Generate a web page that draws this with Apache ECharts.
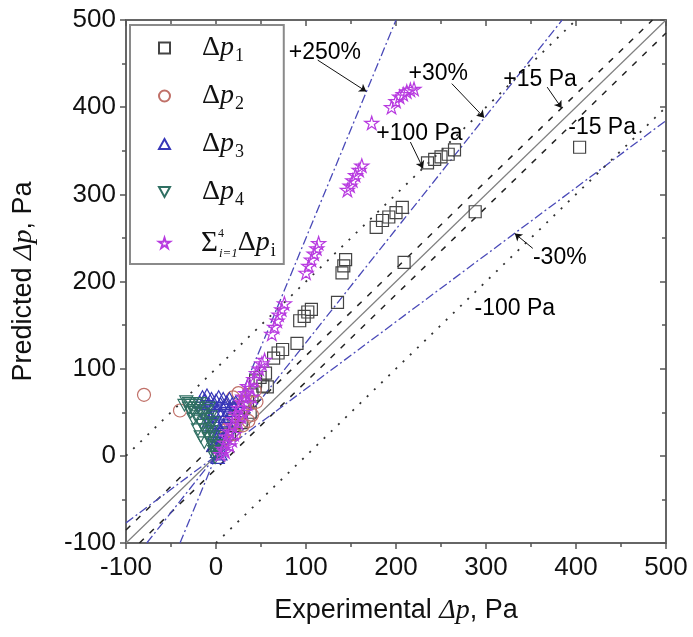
<!DOCTYPE html>
<html><head><meta charset="utf-8">
<script src="https://cdn.jsdelivr.net/npm/echarts@6/dist/echarts.min.js"></script>
<style>html,body{margin:0;padding:0;background:#fff}#c{width:693px;height:637px}</style>
</head><body><div id="c"></div>
<script>
// ---- data ----
const dp1 = [[404,354],[235,336],[243,340],[250,343],[258,346],[265,351],[178,262],[185,270],[192,274],[200,279],[207,285],[288,280],[209,222],[140,210],[142,218],[144,225],[135,176],[93,155],[98,160],[102,165],[106,168],[90,129],[64,112],[69,118],[74,122],[44,86],[49,90],[55,95],[52,80],[57,79],[40,70],[35,62],[30,55],[25,45],[20,35],[38,50],[15,25],[28,38]];
const dp2 = [[-80,70],[-40,52],[19,67],[25,72],[43,75],[32,62],[40,47],[36,40],[28,50],[22,55],[15,40],[12,30],[30,35],[45,62],[8,20],[20,25],[5,10]];
const dp3 = [[-18,62],[-15,68],[-12,64],[-10,70],[-8,60],[-5,66],[-3,58],[0,64],[3,68],[5,60],[8,66],[10,58],[12,62],[15,66],[-10,50],[-6,45],[-2,50],[2,52],[6,48],[10,45],[-5,35],[0,38],[4,32],[8,36],[-2,25],[2,22],[5,28],[0,15],[3,10],[1,5],[5,2],[-14,55],[14,52],[18,60],[20,55],[-8,40],[12,40],[7,20],[22,62],[-3,12],[2,-2]];
const dp4 = [[-35,58],[-30,55],[-28,50],[-25,52],[-22,45],[-20,55],[-18,40],[-15,48],[-15,35],[-12,30],[-10,42],[-10,25],[-8,20],[-7,35],[-5,15],[-5,28],[-3,10],[-2,5],[0,2],[-12,52],[-25,42],[-20,30],[-6,45],[-8,55],[-3,22],[0,12],[2,5],[-1,-2],[-30,60],[-17,22],[-22,58],[-13,15],[-4,38],[-33,62],[-27,58],[-18,60]];
const dpSum = [[195,400],[200,407],[204,412],[208,415],[212,418],[216,420],[220,421],[173,382],[146,305],[149,310],[152,316],[155,322],[159,328],[162,333],[100,210],[103,218],[106,225],[109,232],[112,238],[114,244],[62,140],[65,148],[68,155],[70,162],[73,168],[76,175],[42,88],[45,95],[48,100],[51,106],[54,110],[5,2],[8,8],[10,15],[12,22],[15,28],[18,35],[20,42],[22,48],[25,55],[28,62],[30,68],[15,12],[20,25],[25,38],[30,50],[35,60],[33,72],[38,78],[10,5],[18,18],[28,45],[35,80],[40,68]];

// reference lines (end points, in data units)
const lineEqual   = [[-100,-100],[500,500]];
const linePlus15  = [[-100,-85],[485,500]];
const lineMinus15 = [[-85,-100],[500,485]];
const linePlus30  = [[-76.9,-100],[384.6,500]];
const lineMinus30 = [[-100,-76.9],[500,384.6]];
const linePlus250 = [[-40,-100],[200,500]];
const linePlus100 = [[-100,0],[400,500]];
const lineMinus100= [[0,-100],[500,400]];

// annotations
const annotTexts = ['+250%','+30%','+15 Pa','-15 Pa','+100 Pa','-30%','-100 Pa'];
const annotAt    = [[121,463],[247,439],[360,431],[429,377],[226,370],[382,227],[332,169]];
const arrowFrom  = [[113,454],[262,427],[368,423],[216,360],[352,238]];
const arrowTo    = [[167,418],[298,388],[384,399],[230,330],[332,255]];

const AX_MIN = -100, AX_MAX = 500, AX_STEP = 100;

const SQ = 'path://M0,0L10,0L10,10L0,10Z';
const TRI_UP = 'path://M5,0L10,9L0,9Z';
const TRI_DN = 'path://M0,0L10,0L5,9Z';
const STAR = 'path://M50,0L61,35L98,35L68,57L79,91L50,70L21,91L32,57L2,35L39,35Z';

const legendLabels = {
  dp1: '{d|Δ}{p|p}{s|1}',
  dp2: '{d|Δ}{p|p}{s|2}',
  dp3: '{d|Δ}{p|p}{s|3}',
  dp4: '{d|Δ}{p|p}{s|4}',
  sum: '{S|Σ}{sup|4}{sb|i=1}{d2|Δ}{p|p}{s|i}'
};

const chart = echarts.init(document.getElementById('c'));

function refLine(data, color, type, width) {
  return {type:'line', data, symbol:'none', showSymbol:false, silent:true, clip:true, z:1,
    lineStyle:{color, type, width}, xAxisIndex:0, yAxisIndex:0};
}
function scatter(name, data, symbol, color, size) {
  return {name, type:'scatter', data, symbol, symbolSize:size, symbolKeepAspect:true, z:3,
    itemStyle:{color:'rgba(255,255,255,0)', borderColor:color, borderWidth:1.2, opacity:1},
    xAxisIndex:0, yAxisIndex:0};
}
const DASHDOT = [9,3,2,3];
const axisCommon = {type:'value', min:AX_MIN, max:AX_MAX, interval:AX_STEP,
  axisLine:{show:true, onZero:false, lineStyle:{color:'#666', width:2}},
  axisTick:{show:true, length:6, lineStyle:{color:'#555', width:1.5}},
  minorTick:{show:true, splitNumber:2, length:4, lineStyle:{color:'#555', width:1.5}},
  splitLine:{show:false}};
const labelStyle = {fontFamily:'Liberation Sans', fontSize:26, color:'#111'};
const serif = 'Liberation Serif';

chart.setOption({
  animation:false,
  backgroundColor:'#fff',
  grid:{left:126, right:27, top:20, bottom:94, containLabel:false},
  xAxis:[
    Object.assign({}, axisCommon, {position:'bottom',
      axisLabel:Object.assign({margin:12}, labelStyle),
      name:'{a|Experimental }{i|Δp}{a|, Pa}', nameLocation:'middle', nameGap:54,
      nameTextStyle:{rich:{a:{fontFamily:'Liberation Sans', fontSize:27, color:'#111'},
        i:{fontFamily:serif, fontStyle:'italic', fontSize:28, color:'#111'}}}}),
    Object.assign({}, axisCommon, {position:'top', axisLabel:{show:false},
      axisTick:Object.assign({}, axisCommon.axisTick, {inside:true}),
      minorTick:Object.assign({}, axisCommon.minorTick, {inside:true})})
  ],
  yAxis:[
    Object.assign({}, axisCommon, {position:'left',
      axisLabel:Object.assign({margin:10}, labelStyle),
      name:'{a|Predicted }{i|Δp}{a|, Pa}', nameLocation:'middle', nameGap:88, nameRotate:90,
      nameTextStyle:{rich:{a:{fontFamily:'Liberation Sans', fontSize:27, color:'#111'},
        i:{fontFamily:serif, fontStyle:'italic', fontSize:28, color:'#111'}}}}),
    Object.assign({}, axisCommon, {position:'right', axisLabel:{show:false},
      axisTick:Object.assign({}, axisCommon.axisTick, {inside:true}),
      minorTick:Object.assign({}, axisCommon.minorTick, {inside:true})})
  ],
  legend:{
    orient:'vertical', left:130, top:25, selectedMode:false,
    data:['dp1','dp2','dp3','dp4','sum'],
    itemWidth:11, itemHeight:11, itemGap:17,
    padding:[9,8,4,28], borderColor:'#8a8a8a', borderWidth:2, backgroundColor:'#fff',
    formatter:n => legendLabels[n],
    textStyle:{color:'#111', rich:{
      d:{fontFamily:serif, fontSize:28, lineHeight:34, color:'#111', padding:[0,0,0,27]},
      d2:{fontFamily:serif, fontSize:28, lineHeight:34, color:'#111'},
      p:{fontFamily:serif, fontStyle:'italic', fontSize:28, lineHeight:34, color:'#111'},
      s:{fontFamily:serif, fontSize:18, lineHeight:34, verticalAlign:'bottom', color:'#111', padding:[0,0,0,1]},
      S:{fontFamily:serif, fontSize:29, lineHeight:34, color:'#111', padding:[0,0,0,26]},
      sup:{fontFamily:serif, fontSize:12, lineHeight:34, verticalAlign:'top', width:1, color:'#111', padding:[2,0,0,0]},
      sb:{fontFamily:serif, fontStyle:'italic', fontSize:13, lineHeight:34, verticalAlign:'bottom', color:'#111'}
    }}
  },
  series:[
    refLine(lineEqual, '#808080', 'solid', 1.2),
    refLine(linePlus15, '#222', [6,8], 1.5),
    refLine(lineMinus15, '#222', [6,8], 1.5),
    refLine(linePlus30, '#4a4ab8', DASHDOT, 1.3),
    refLine(lineMinus30, '#4a4ab8', DASHDOT, 1.3),
    refLine(linePlus250, '#4a4ab8', DASHDOT, 1.3),
    refLine(linePlus100, '#333', [2,8], 1.8),
    refLine(lineMinus100, '#333', [2,8], 1.8),
    scatter('dp1', dp1, SQ, '#444', 12),
    scatter('dp2', dp2, 'circle', '#c07068', 13),
    scatter('dp3', dp3, TRI_UP, '#3636b8', 13),
    scatter('dp4', dp4, TRI_DN, '#2f6f62', 13),
    scatter('sum', dpSum, STAR, '#b83be0', 14),
    {type:'lines', coordinateSystem:'cartesian2d', xAxisIndex:0, yAxisIndex:0, silent:true, z:4,
      symbol:['none','arrow'], symbolSize:7,
      lineStyle:{color:'#111', width:1, opacity:1},
      data: arrowFrom.map((f,i) => ({coords:[f, arrowTo[i]]}))},
    {type:'scatter', xAxisIndex:0, yAxisIndex:0, silent:true, z:5, symbolSize:0,
      itemStyle:{color:'#000', opacity:1},
      label:{show:true, position:'inside', formatter:'{b}', fontFamily:'Liberation Sans', fontSize:23,
        color:'#000', textBorderWidth:0, opacity:1},
      data: annotTexts.map((t,i) => ({name:t, value:annotAt[i]}))}
  ]
});
</script></body></html>
